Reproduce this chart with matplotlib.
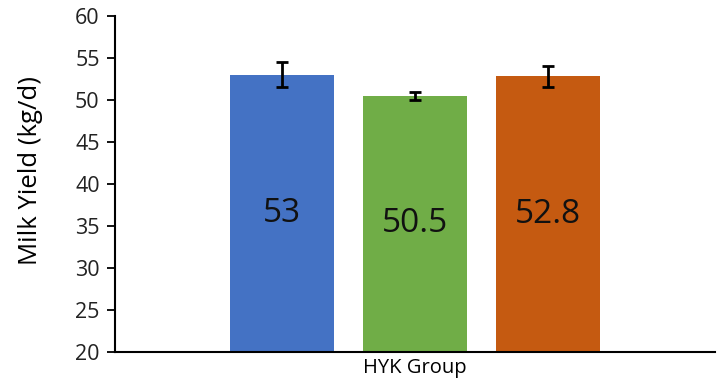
import matplotlib.pyplot as plt

plt.rcParams['font.family'] = ['Open Sans', 'DejaVu Sans']

# values
groups = ['A', 'B', 'C']
yield_kg = [53, 50.5, 52.8]
err = [1.5, 0.5, 1.3]
labels = ['53', '50.5', '52.8']
colors = ['#4472C4', '#70AD47', '#C55A11']

fig = plt.figure(figsize=(7.23, 3.81), dpi=100)
ax = fig.add_axes([0.159, 0.076, 0.83, 0.882])

x = range(len(groups))
ax.bar(x, [v - 20 for v in yield_kg], bottom=20, width=0.78, color=colors,
       yerr=err, error_kw=dict(ecolor='black', elinewidth=2, capsize=4, capthick=2))

for i, v in enumerate(yield_kg):
    ax.text(i, (20 + v) / 2, labels[i], ha='center', va='center', fontsize=24, color='#111111')

ax.set_ylim(20, 60)
ax.set_xlim(-1.26, 3.26)
ax.set_yticks(range(20, 61, 5))
ax.set_xticks([])
ax.set_xlabel('HYK Group', fontsize=14.5, labelpad=4)
ax.set_ylabel('Milk Yield (kg/d)', fontsize=18.5)
ax.yaxis.set_label_coords(-0.12, 0.54)
ax.tick_params(axis='y', labelsize=15.5, length=6, width=1.3, pad=5, labelcolor='#222222')
for s in ['top', 'right']:
    ax.spines[s].set_visible(False)
ax.spines['left'].set_linewidth(1.5)
ax.spines['bottom'].set_linewidth(1.5)

fig.savefig('out.png', dpi=100)
